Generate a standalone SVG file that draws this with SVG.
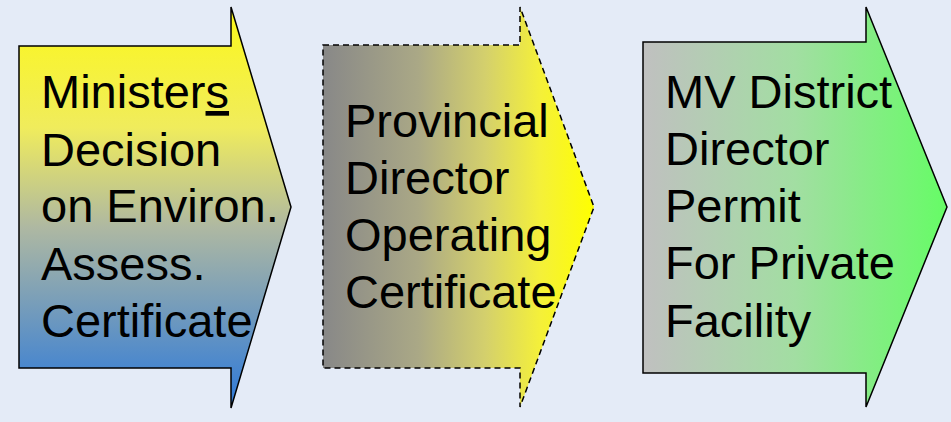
<svg xmlns="http://www.w3.org/2000/svg" width="951" height="422" viewBox="0 0 951 422">
<defs>
<linearGradient id="g1" x1="0" y1="7" x2="0" y2="408" gradientUnits="userSpaceOnUse">
<stop offset="0" stop-color="#FCF81A"/>
<stop offset="0.3" stop-color="#F0EC5C"/>
<stop offset="0.55" stop-color="#AEB8A2"/>
<stop offset="1" stop-color="#2D79DA"/>
</linearGradient>
<linearGradient id="g2" x1="323" y1="0" x2="594" y2="0" gradientUnits="userSpaceOnUse">
<stop offset="0" stop-color="#888888"/>
<stop offset="0.35" stop-color="#AAA886"/>
<stop offset="0.6" stop-color="#D4D06C"/>
<stop offset="0.8" stop-color="#F4F03A"/>
<stop offset="1" stop-color="#FFFF00"/>
</linearGradient>
<linearGradient id="g3" x1="643" y1="0" x2="947" y2="0" gradientUnits="userSpaceOnUse">
<stop offset="0" stop-color="#C0C0C0"/>
<stop offset="0.5" stop-color="#A2DEA2"/>
<stop offset="1" stop-color="#66FC66"/>
</linearGradient>
</defs>
<style>
.arrow{stroke:#000;stroke-width:1.5;stroke-linejoin:miter}
.dash{stroke-dasharray:6 4}
.lbl{font-family:"Liberation Sans",Arial,sans-serif;font-size:47px;fill:#000}
</style>
<rect width="951" height="422" fill="#E4EBF7"/>
<g id="node1">
<polygon class="arrow" fill="url(#g1)" points="19,46 231,46 231,7 291,207 231,408 231,368 19,368"/>
<text class="lbl" x="41"><tspan x="41" y="108">Minister<tspan text-decoration="underline">s</tspan></tspan><tspan x="41" y="166">Decision</tspan><tspan x="41" y="222">on Environ.</tspan><tspan x="41" y="280">Assess.</tspan><tspan x="41" y="337">Certificate</tspan></text>
</g>
<g id="node2">
<polygon class="arrow dash" fill="url(#g2)" points="323,45 520,45 520,7 594,207 520,407 520,368 323,368"/>
<text class="lbl"><tspan x="345" y="137">Provincial</tspan><tspan x="345" y="194">Director</tspan><tspan x="345" y="251">Operating</tspan><tspan x="345" y="308">Certificate</tspan></text>
</g>
<g id="node3">
<polygon class="arrow" fill="url(#g3)" points="643,42 866,42 866,7 947,207 866,407 866,373 643,373"/>
<text class="lbl"><tspan x="665" y="108">MV District</tspan><tspan x="665" y="165">Director</tspan><tspan x="665" y="222">Permit</tspan><tspan x="665" y="279">For Private</tspan><tspan x="665" y="337">Facility</tspan></text>
</g>
<g id="connectors"></g>
</svg>
